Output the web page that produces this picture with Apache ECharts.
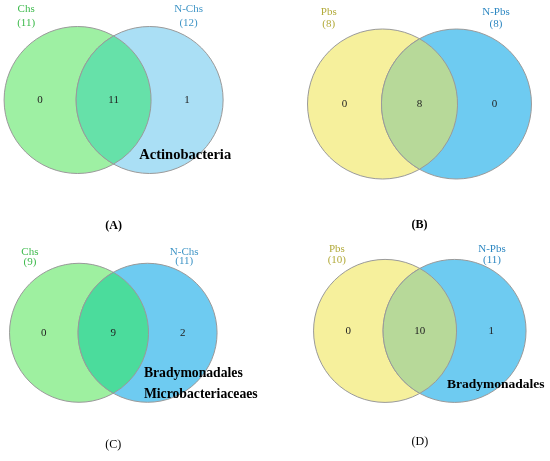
<!DOCTYPE html>
<html><head><meta charset="utf-8">
<script src="https://cdn.jsdelivr.net/npm/echarts@6/dist/echarts.min.js"></script>
<style>html,body{margin:0;padding:0;background:#fff}#c{width:550px;height:461px}</style>
</head><body><div id="c"></div>
<script>
// ---- data ----
const panelTags = ['(A)', '(B)', '(C)', '(D)'];
const leftNames = ['Chs', 'Pbs', 'Chs', 'Pbs'];
const rightNames = ['N-Chs', 'N-Pbs', 'N-Chs', 'N-Pbs'];
const leftTotals = [11, 8, 9, 10];
const rightTotals = [12, 8, 11, 11];
const leftOnly = [0, 0, 0, 0];
const shared = [11, 8, 9, 10];
const rightOnly = [1, 0, 2, 1];
const notes = [['Actinobacteria'], [], ['Bradymonadales', 'Microbacteriaceaes'], ['Bradymonadales']];

// ---- styling / layout ----
const palettes = {
  greenBlueLight: { left: '#9ef0a3', right: '#aadff5', lens: '#66e1a9', lText: '#3dba4c', rText: '#3f95c6' },
  yellowBlue:     { left: '#f6f09c', right: '#6ecbf1', lens: '#b7d999', lText: '#b3ab3c', rText: '#2f88c2' },
  greenBlue:      { left: '#9ef0a0', right: '#6ecbf1', lens: '#4bdc9c', lText: '#3dba4c', rText: '#3f95c6' }
};
const layout = [
  { mx: 113.6, cy: 100, r: 73.5, h: 0.49, lx: -1.19, rx: 1.02, nameY: [1.24, 1.24], totY: [1.05, 1.05], noteX: 0.35, noteY: [-0.75], noteSize: 14.5, tagY: -1.71, tagBold: true, pal: 'greenBlueLight' },
  { mx: 419.5, cy: 104, r: 75, h: 0.493, lx: -1.21, rx: 1.02, nameY: [1.23, 1.23], totY: [1.07, 1.07], noteX: 0, noteY: [], noteSize: 14, tagY: -1.61, tagBold: true, pal: 'yellowBlue' },
  { mx: 113.3, cy: 335.5, r: 69.5, h: 0.493, lx: -1.2, rx: 1.02, nameY: [1.19, 1.2], totY: [1.04, 1.06], noteX: 0.44, noteY: [-0.6, -0.91], noteSize: 13.7, tagY: -1.66, tagBold: false, pal: 'greenBlue' },
  { mx: 419.8, cy: 335, r: 71.5, h: 0.486, lx: -1.16, rx: 1.01, nameY: [1.19, 1.2], totY: [1.03, 1.03], noteX: 0.38, noteY: [-0.78], noteSize: 13.5, tagY: -1.62, tagBold: false, pal: 'yellowBlue' }
];
const SERIF = '"Liberation Serif", "DejaVu Serif", serif';
const STROKE = '#9a9a9a';

function txt(pt, s, color, size, bold, align) {
  return {
    type: 'text',
    style: {
      text: s, x: pt[0], y: pt[1], fill: color,
      font: (bold ? 'bold ' : '') + size + 'px ' + SERIF,
      textAlign: align || 'center', textVerticalAlign: 'middle'
    }
  };
}

function makeRender(p) {
  const L = layout[p];
  const pal = palettes[L.pal];
  return function (params, api) {
    const k = api.value(0);
    const count = api.value(1);
    const R = api.size([1, 1])[0];
    const cL = api.coord([-L.h, 0]);
    const cR = api.coord([L.h, 0]);
    const children = [];
    if (k === 0) {
      children.push({ type: 'circle', shape: { cx: cL[0], cy: cL[1], r: R }, style: { fill: pal.left, stroke: STROKE, lineWidth: 1 } });
      children.push(txt(api.coord([-1, 0]), String(count), '#222', 11));
      children.push(txt(api.coord([L.lx, L.nameY[0]]), leftNames[p], pal.lText, 11));
      children.push(txt(api.coord([L.lx, L.totY[0]]), '(' + leftTotals[p] + ')', pal.lText, 11));
    } else if (k === 1) {
      children.push({ type: 'circle', shape: { cx: cR[0], cy: cR[1], r: R }, style: { fill: pal.right, stroke: STROKE, lineWidth: 1 } });
      children.push(txt(api.coord([1, 0]), String(count), '#222', 11));
      children.push(txt(api.coord([L.rx, L.nameY[1]]), rightNames[p], pal.rText, 11));
      children.push(txt(api.coord([L.rx, L.totY[1]]), '(' + rightTotals[p] + ')', pal.rText, 11));
    } else {
      const mx = (cL[0] + cR[0]) / 2;
      const hd = (cR[0] - cL[0]) / 2;
      const kk = Math.sqrt(Math.max(R * R - hd * hd, 0));
      const top = [mx, cL[1] - kk], bot = [mx, cL[1] + kk];
      const d = 'M' + top[0] + ' ' + top[1] +
        ' A' + R + ' ' + R + ' 0 0 1 ' + bot[0] + ' ' + bot[1] +
        ' A' + R + ' ' + R + ' 0 0 1 ' + top[0] + ' ' + top[1] + ' Z';
      children.push({ type: 'path', shape: { pathData: d }, style: { fill: pal.lens, stroke: STROKE, lineWidth: 1 } });
      children.push(txt(api.coord([0, 0]), String(count), '#222', 11));
      notes[p].forEach(function (s, i) {
        children.push(txt(api.coord([L.noteX, L.noteY[i]]), s, '#000', L.noteSize, true, 'left'));
      });
      children.push(txt(api.coord([0, L.tagY]), panelTags[p], '#000', 12, L.tagBold));
    }
    return { type: 'group', children: children };
  };
}

const grids = [], xAxes = [], yAxes = [], series = [];
layout.forEach(function (L, p) {
  grids.push({ left: L.mx - 1.5 * L.r, top: L.cy - 1.35 * L.r, width: 3 * L.r, height: 3.25 * L.r, containLabel: false });
  xAxes.push({ type: 'value', gridIndex: p, min: -1.5, max: 1.5, show: false });
  yAxes.push({ type: 'value', gridIndex: p, min: -1.9, max: 1.35, show: false });
  series.push({
    type: 'custom', xAxisIndex: p, yAxisIndex: p, clip: false, silent: true,
    renderItem: makeRender(p),
    data: [[0, leftOnly[p]], [1, rightOnly[p]], [2, shared[p]]]
  });
});

const chart = echarts.init(document.getElementById('c'), null, { renderer: 'canvas' });
chart.setOption({
  backgroundColor: '#ffffff',
  animation: false,
  grid: grids, xAxis: xAxes, yAxis: yAxes, series: series
});
</script></body></html>
